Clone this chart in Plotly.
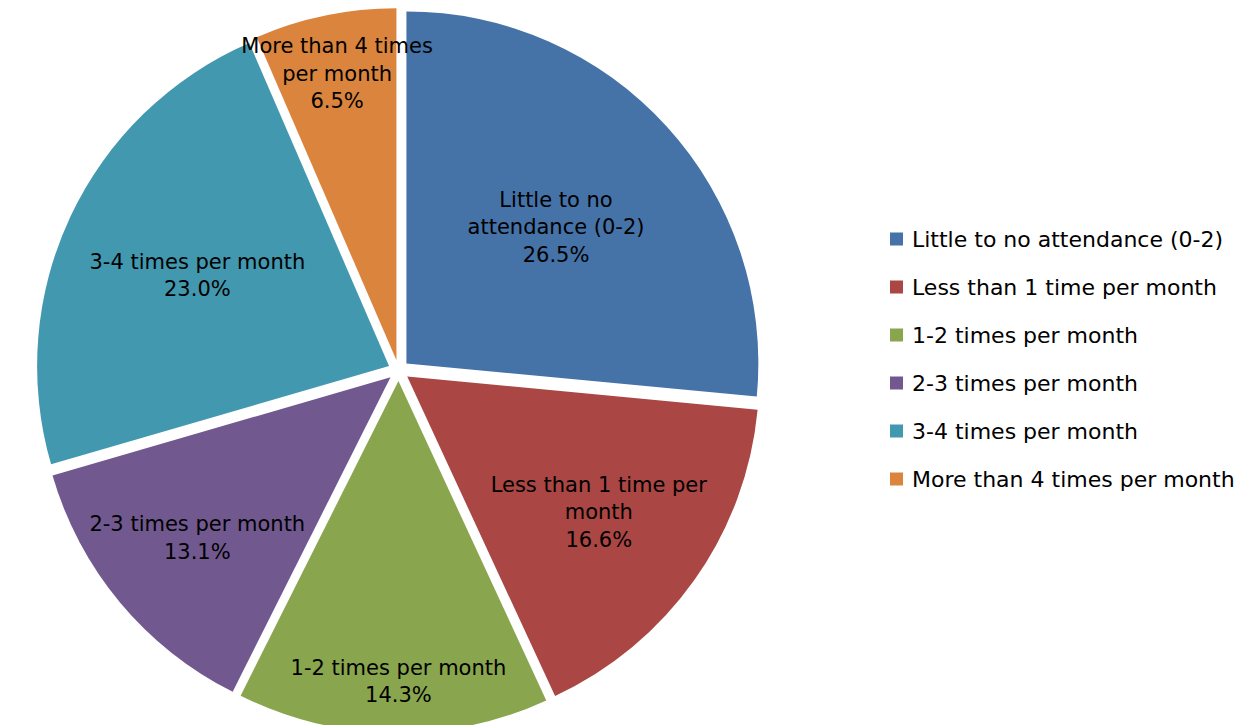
import plotly.graph_objects as go

categories = ["Little to no attendance (0-2)", "Less than 1 time per month", "1-2 times per month",
              "2-3 times per month", "3-4 times per month", "More than 4 times per month"]
slice_text = ["Little to no<br>attendance (0-2)", "Less than 1 time per<br>month", "1-2 times per month",
              "2-3 times per month", "3-4 times per month", "More than 4 times<br>per month"]
values = [26.5, 16.6, 14.3, 13.1, 23.0, 6.5]
colors = ["#4572A7", "#AA4643", "#89A54E", "#71588F", "#4198AF", "#DB843D"]

FONT = "DejaVu Sans"

fig = go.Figure(go.Pie(
    labels=categories, values=values, text=slice_text,
    texttemplate="%{text}<br>%{percent:.1%}", textinfo="text",
    textposition="inside", insidetextorientation="horizontal",
    textfont=dict(family=FONT, size=21, color="black"),
    marker=dict(colors=colors, line=dict(color="white", width=0)),
    sort=False, direction="clockwise", rotation=0,
    pull=[0.03] * 6, showlegend=False,
    domain=dict(x=[0.0, 0.62], y=[0, 1]),
))

# manual legend (to match the reference's wide spacing)
y0, dy = 231, 48
for i, (cat, col) in enumerate(zip(categories, colors)):
    yc = y0 + i * dy
    fig.add_shape(type="rect", xref="paper", yref="paper",
                  x0=882 / 1260, x1=895 / 1260,
                  y0=1 - (yc + 6.5) / 725, y1=1 - (yc - 6.5) / 725,
                  fillcolor=col, line=dict(width=0))
    fig.add_annotation(xref="paper", yref="paper", x=902 / 1260, y=1 - yc / 725,
                       xanchor="left", yanchor="middle", text=cat, showarrow=False,
                       font=dict(family=FONT, size=22, color="black"))

fig.update_layout(
    width=1260, height=725,
    margin=dict(l=0, r=0, t=0, b=0),
    paper_bgcolor="white", plot_bgcolor="white",
    uniformtext=dict(minsize=21, mode="show"),
)
fig.write_html("out.html")
